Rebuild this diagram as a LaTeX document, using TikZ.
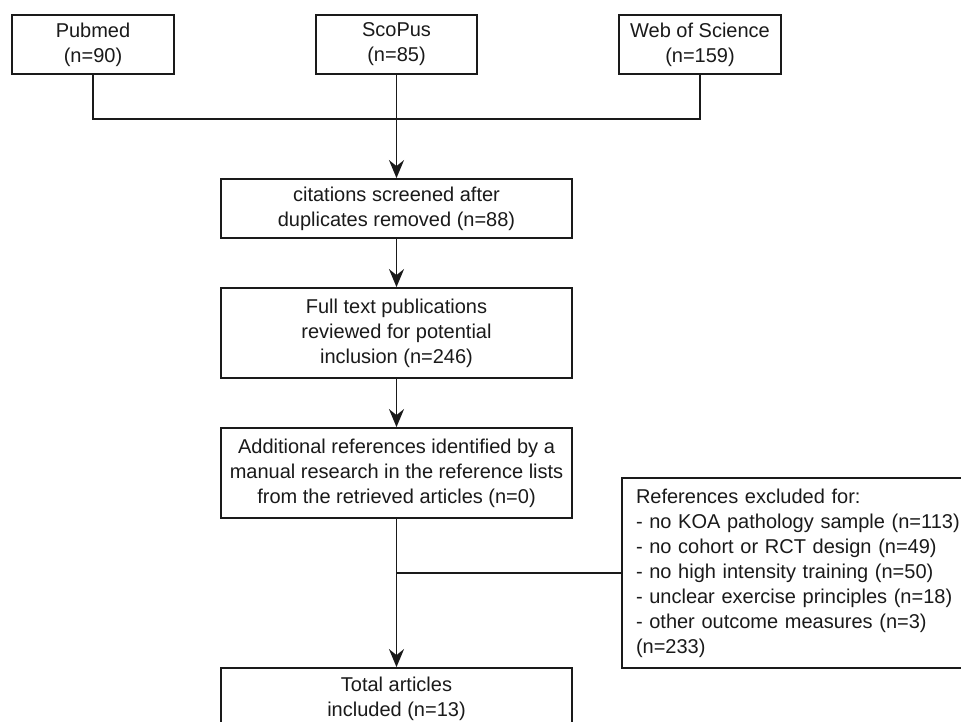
\documentclass[tikz,border=0pt]{standalone}
\usepackage{fontspec}
\setmainfont{Liberation Sans}
\usetikzlibrary{arrows.meta}
\definecolor{ink}{HTML}{1A1A1A}
\begin{document}
\begin{tikzpicture}[x=1pt,y=-1pt,
  box/.style={draw=ink, line width=1.8pt, fill=white, text=ink, inner sep=0pt,
    font=\fontsize{20}{25}\selectfont, align=center},
  conn/.style={draw=ink, line width=1.8pt},
  arr/.style={conn, -{Stealth[length=18pt,width=15pt,inset=6pt]}}]
\useasboundingbox (0,0) rectangle (961,722);
\clip (0,0) rectangle (961,722);
\fill[white] (0,0) rectangle (961,722);
\node[box, minimum width=162pt, minimum height=59pt] (pub) at (93,44.5) {Pubmed\\(n=90)};
\node[box, minimum width=161pt, minimum height=59pt] (sco) at (396.5,44.5) {ScoPus\\(n=85)};
\node[box, minimum width=162pt, minimum height=59pt] (wos) at (700,44.5) {Web of Science\\(n=159)};
\node[box, minimum width=351pt, minimum height=59pt] (cit) at (396.5,208.5) {citations screened after\\duplicates removed (n=88)};
\node[box, minimum width=351pt, minimum height=90pt] (full) at (396.5,333) {Full text publications\\reviewed for potential\\inclusion (n=246)};
\node[box, minimum width=351pt, minimum height=90pt] (add) at (396.5,473) {Additional references identified by a\\manual research in the reference lists\\from the retrieved articles (n=0)};
\node[box, minimum height=190pt, align=left, text width=316pt, inner xsep=14pt] (excl) at (794,573) {\mbox{References excluded for:}\\\mbox{- no KOA pathology sample (n=113)}\\\mbox{- no cohort or RCT design (n=49)}\\\mbox{- no high intensity training (n=50)}\\\mbox{- unclear exercise principles (n=18)}\\\mbox{- other outcome measures (n=3)}\\\mbox{(n=233)}};
\node[box, minimum width=351pt, minimum height=62pt] (tot) at (396.5,699) {Total articles\\included (n=13)};
\coordinate (j1) at (396.5,119);
\draw[conn] (pub.south) |- (j1);
\draw[conn] (wos.south) |- (j1);
\draw[arr] (sco.south) -- (cit.north);
\draw[arr] (cit.south) -- (full.north);
\draw[arr] (full.south) -- (add.north);
\draw[arr] (add.south) -- (tot.north);
\draw[conn] (excl.west) -- (excl.west -| add.south);
\end{tikzpicture}
\end{document}
